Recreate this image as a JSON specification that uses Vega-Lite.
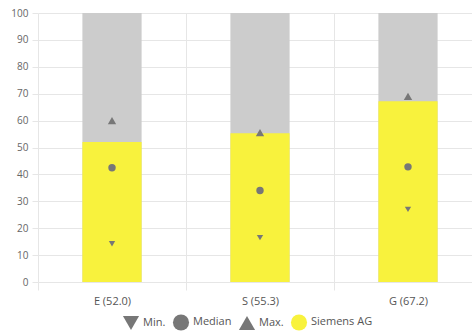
{
  "$schema": "https://vega.github.io/schema/vega-lite/v6.json",
  "autosize": "none",
  "width": 444,
  "height": 269,
  "padding": {"left": 38, "top": 13, "right": 0, "bottom": 52},
  "background": "white",
  "config": {
    "font": "Open Sans",
    "view": {"stroke": null},
    "axisY": {
      "tickCount": 10,
      "grid": true,
      "gridColor": "#e6e6e6",
      "domain": false,
      "tickColor": "#e6e6e6",
      "tickSize": 6,
      "labelPadding": 4,
      "labelFontSize": 10,
      "labelColor": "#666666"
    }
  },
  "data": {
    "values": [
      {"pillar": "E (52.0)", "series": "Siemens AG", "value": 52.0},
      {"pillar": "E (52.0)", "series": "Min.", "value": 14.2},
      {"pillar": "E (52.0)", "series": "Median", "value": 42.5},
      {"pillar": "E (52.0)", "series": "Max.", "value": 60.0},
      {"pillar": "S (55.3)", "series": "Siemens AG", "value": 55.3},
      {"pillar": "S (55.3)", "series": "Min.", "value": 16.5},
      {"pillar": "S (55.3)", "series": "Median", "value": 34.0},
      {"pillar": "S (55.3)", "series": "Max.", "value": 55.5},
      {"pillar": "G (67.2)", "series": "Siemens AG", "value": 67.2},
      {"pillar": "G (67.2)", "series": "Min.", "value": 27.0},
      {"pillar": "G (67.2)", "series": "Median", "value": 42.8},
      {"pillar": "G (67.2)", "series": "Max.", "value": 69.0}
    ]
  },
  "encoding": {
    "x": {
      "field": "pillar",
      "type": "nominal",
      "sort": null,
      "title": null,
      "scale": {"paddingInner": 0, "paddingOuter": 0},
      "axis": {
        "tickBand": "extent",
        "labelAngle": 0,
        "grid": true,
        "gridColor": "#e6e6e6",
        "domain": false,
        "tickColor": "#e6e6e6",
        "tickSize": 8,
        "labelPadding": 5,
        "labelFontSize": 11,
        "labelColor": "#555555"
      }
    }
  },
  "layer": [
    {
      "transform": [{"filter": "datum.series === 'Siemens AG'"}],
      "mark": {"type": "bar", "width": {"band": 0.4}, "color": "#cccccc"},
      "encoding": {
        "y": {
          "datum": 100,
          "type": "quantitative",
          "scale": {"domain": [0, 100]},
          "title": null
        }
      }
    },
    {
      "transform": [{"filter": "datum.series === 'Siemens AG'"}],
      "mark": {"type": "bar", "width": {"band": 0.4}},
      "encoding": {
        "y": {"field": "value", "type": "quantitative", "title": null},
        "color": {
          "field": "series",
          "type": "nominal",
          "scale": {
            "domain": ["Min.", "Median", "Max.", "Siemens AG"],
            "range": ["#777777", "#777777", "#777777", "#f8f23d"]
          },
          "legend": {
            "title": null,
            "orient": "none",
            "direction": "horizontal",
            "legendX": 84,
            "legendY": 300,
            "symbolSize": 260,
            "symbolType": "circle",
            "labelFontSize": 11,
            "labelColor": "#555555",
            "columnPadding": 6,
            "labelOffset": 3,
            "encode": {
              "symbols": {
                "update": {
                  "shape": {"signal": "datum.value === 'Min.' ? 'triangle-down' : (datum.value === 'Max.' ? 'triangle-up' : 'circle')"}
                }
              }
            }
          }
        }
      }
    },
    {
      "transform": [{"filter": "datum.series !== 'Siemens AG'"}],
      "mark": {"type": "point", "filled": true, "opacity": 1},
      "encoding": {
        "y": {"field": "value", "type": "quantitative", "title": null},
        "color": {"field": "series", "type": "nominal"},
        "shape": {
          "field": "series",
          "type": "nominal",
          "scale": {
            "domain": ["Min.", "Median", "Max."],
            "range": ["triangle-down", "circle", "triangle-up"]
          },
          "legend": null
        },
        "size": {
          "field": "series",
          "type": "nominal",
          "scale": {"domain": ["Min.", "Median", "Max."], "range": [40, 70, 40]},
          "legend": null
        }
      }
    }
  ]
}
